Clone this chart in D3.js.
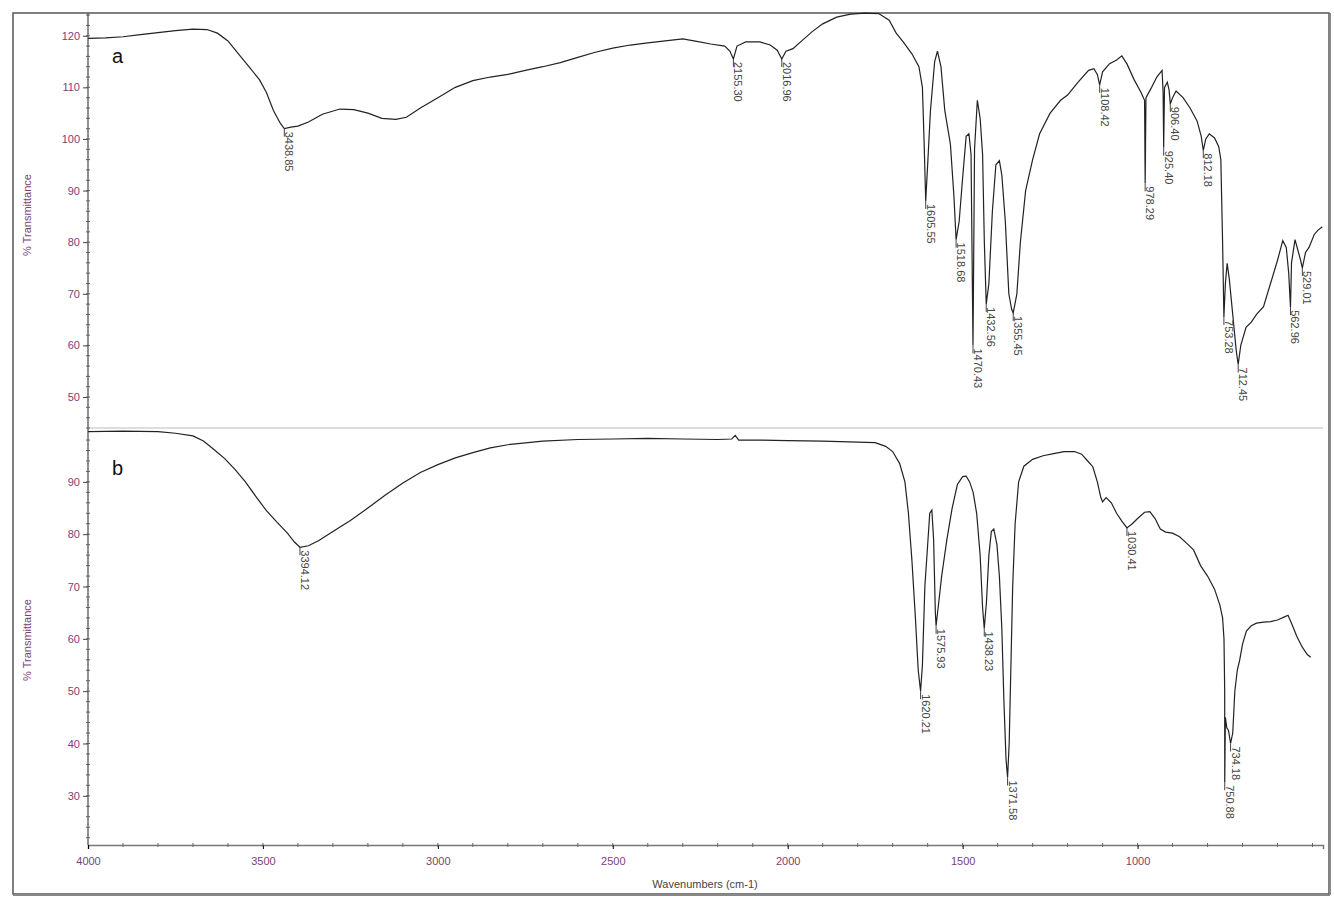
<!DOCTYPE html>
<html><head><meta charset="utf-8">
<script src="https://cdn.jsdelivr.net/npm/d3@7"></script>
<style>body{margin:0;background:#fff}</style></head>
<body><svg id="c" width="1334" height="911"></svg>
<script>
const spectrumA = [[4000,119.5],[3950,119.6],[3900,119.8],[3850,120.2],[3800,120.6],[3750,121],[3700,121.3],[3660,121.2],[3630,120.5],[3600,119],[3570,116.5],[3540,114],[3510,111.5],[3490,109],[3470,105.5],[3450,103],[3438.85,102],[3420,102.3],[3400,102.5],[3370,103.3],[3330,104.8],[3280,105.8],[3240,105.7],[3200,105],[3160,104],[3120,103.8],[3090,104.2],[3050,106],[3000,108],[2950,110],[2900,111.3],[2850,112],[2800,112.5],[2750,113.3],[2700,114],[2650,114.8],[2600,115.8],[2550,116.8],[2500,117.6],[2450,118.2],[2400,118.6],[2350,119],[2300,119.4],[2260,118.9],[2220,118.4],[2180,118],[2165,117],[2155.30,115.5],[2145,118],[2120,118.8],[2080,118.8],[2050,118.2],[2030,117.2],[2016.96,115.5],[2005,117],[1985,117.5],[1960,119],[1930,120.8],[1900,122.3],[1860,123.6],[1820,124.2],[1780,124.4],[1740,124.3],[1710,123],[1690,120.5],[1670,118.8],[1645,116.5],[1625,114],[1615,110],[1610,99],[1605.55,88],[1600,95],[1592,105.5],[1580,115],[1572,117],[1562,114],[1551,105.5],[1535,99],[1525,89],[1518.68,80.5],[1510,84],[1500,92.5],[1490,100.5],[1482,101],[1476,97],[1470.43,60],[1466,98],[1458,107.5],[1450,104],[1443,97],[1438,80],[1432.56,68],[1425,72],[1415,86],[1405,95],[1395,95.8],[1388,93],[1378,84],[1368,70],[1360,67],[1355.45,66.3],[1345,70],[1335,80],[1320,90],[1300,96],[1280,101],[1250,105],[1220,107.5],[1200,108.5],[1170,111],[1140,113.3],[1125,113.6],[1115,112.5],[1108.42,110.5],[1100,113],[1080,114.6],[1060,115.3],[1045,116.1],[1030,114.5],[1010,111.5],[990,109],[980,107.5],[978.29,91.4],[976,108],[960,110],[945,112],[930,113.3],[927,109],[925.40,98.3],[923,110],[915,111],[910,109.5],[906.40,106.8],[900,108],[890,109.3],[870,108],[850,106],[830,103.5],[818,100.5],[812.18,97.8],[805,100],[795,101],[780,100.2],[768,98.5],[762,96],[757,80],[753.28,65.5],[749,72],[744,75.9],[738,73],[728,66],[718,59],[712.45,56.3],[705,60],[690,63.5],[675,64.5],[660,66],[640,67.5],[620,72],[600,76.5],[585,80.3],[575,79],[568,74],[562.96,67.4],[560,76],[550,80.5],[540,78],[534,76.5],[529.01,75],[520,78],[510,79],[495,81.5],[485,82.3],[472,83]];
const spectrumB = [[4000,99.6],[3900,99.7],[3800,99.6],[3750,99.3],[3700,98.8],[3670,97.8],[3640,96.2],[3610,94.5],[3580,92.4],[3550,90],[3520,87.2],[3490,84.5],[3460,82.3],[3430,80.2],[3410,78.5],[3394.12,77.5],[3370,77.8],[3340,78.8],[3300,80.5],[3250,82.6],[3200,85],[3150,87.5],[3100,89.8],[3050,91.8],[3000,93.3],[2950,94.6],[2900,95.6],[2850,96.5],[2800,97.1],[2700,97.8],[2600,98.1],[2500,98.2],[2400,98.3],[2300,98.2],[2200,98.1],[2160,98.2],[2150,98.9],[2140,98],[2100,98],[2000,97.9],[1900,97.8],[1800,97.6],[1750,97.5],[1720,96.8],[1700,95.8],[1680,93.5],[1665,90],[1655,84],[1645,75],[1635,64],[1627,54],[1620.21,50],[1615,55],[1608,70],[1600,78],[1594,84],[1588,84.6],[1583,79],[1578,65],[1575.93,62.5],[1570,66],[1560,72],[1545,79],[1530,85],[1515,89.5],[1500,91],[1490,91.1],[1480,90],[1470,88],[1460,84],[1450,76],[1443,66],[1438.23,62],[1432,67],[1425,76],[1418,80.5],[1411,81],[1402,78],[1395,72],[1388,62],[1382,48],[1376,37],[1371.58,33.5],[1367,40],[1362,55],[1357,70],[1350,82],[1340,90],[1325,93],[1300,94.3],[1270,95],[1240,95.4],[1210,95.8],[1180,95.8],[1160,95.3],[1140,93.8],[1128,92.9],[1115,90],[1105,87],[1100,86.2],[1090,87],[1075,86],[1060,84],[1045,82.5],[1030.41,81.2],[1015,82],[1000,83],[980,84.2],[965,84.3],[950,83],[935,81],[920,80.4],[900,80.2],[880,79.5],[860,78.3],[840,77],[820,74],[800,72],[780,69.5],[765,66.5],[757,64],[753,60],[751,50],[750.88,32.6],[749,45],[745,43],[740,42.5],[734.18,40],[728,42],[722,50],[715,54],[708,56],[700,59],[689,61.5],[675,62.5],[660,63],[640,63.2],[620,63.3],[600,63.6],[580,64.2],[570,64.5],[560,63],[545,60.5],[530,58.5],[515,57],[505,56.5]];
const peaksA = ["3438.85","2155.30","2016.96","1605.55","1518.68","1470.43","1432.56","1355.45","1108.42","978.29","925.40","906.40","812.18","753.28","712.45","562.96","529.01"];
const peaksB = ["3394.12","1620.21","1575.93","1438.23","1371.58","1030.41","750.88","734.18"];
const xTicks = [4000,3500,3000,2500,2000,1500,1000];
const yTicksA = [50,60,70,80,90,100,110,120];
const yTicksB = [30,40,50,60,70,80,90];

const svg = d3.select("#c");
const x = d3.scaleLinear().domain([4000,470]).range([88,1323]);
const yA = d3.scaleLinear().domain([44,124.6]).range([428,12]);
const yB = d3.scaleLinear().domain([20.6,100.3]).range([845,428]);
const purple = "#7a3f78";

svg.append("rect").attr("x",13).attr("y",13).attr("width",1316).attr("height",881).attr("fill","none").attr("stroke","#555").attr("stroke-width",1.5);
svg.append("line").attr("x1",13).attr("x2",1330).attr("y1",895).attr("y2",895).attr("stroke","#888").attr("stroke-width",2);
svg.append("line").attr("x1",1330).attr("x2",1330).attr("y1",13).attr("y2",895).attr("stroke","#888").attr("stroke-width",2);
svg.append("line").attr("x1",88).attr("x2",1323).attr("y1",428).attr("y2",428).attr("stroke","#bbb");

function yaxis(y, ticks, yMin, yMax){
  const minors = d3.range(Math.ceil(yMin/2)*2, yMax, 2);
  const g = svg.append("g").attr("transform","translate(88,0)")
   .call(d3.axisLeft(y).tickValues(ticks).tickSize(5).tickFormat(d3.format("d")));
  g.select(".domain").remove();
  g.selectAll("text").attr("fill",purple).attr("font-family","Liberation Sans, Arial").attr("font-size",11);
  g.selectAll("line").attr("stroke","#444");
  svg.append("g").selectAll("line").data(minors).join("line")
   .attr("x1",86).attr("x2",90).attr("y1",d=>y(d)).attr("y2",d=>y(d)).attr("stroke","#666");
}
yaxis(yA, yTicksA, 44, 124.6);
yaxis(yB, yTicksB, 21, 100);
svg.append("line").attr("x1",88).attr("x2",88).attr("y1",13).attr("y2",845).attr("stroke","#555").attr("stroke-width",1.3);

const gx = svg.append("g").attr("transform","translate(0,845)")
  .call(d3.axisBottom(x).tickValues(xTicks).tickSize(4).tickFormat(d3.format("d")));
gx.select(".domain").attr("stroke","#777").attr("stroke-width",1.5);
gx.selectAll("text").attr("fill",purple).attr("font-family","Liberation Sans, Arial").attr("font-size",11).attr("dy","1.2em");
svg.append("g").selectAll("line").data(d3.range(500,4000,100)).join("line")
  .attr("x1",d=>x(d)).attr("x2",d=>x(d)).attr("y1",843).attr("y2",847).attr("stroke","#666");

const line = y => d3.line().x(d=>x(d[0])).y(d=>y(d[1]));
svg.append("path").datum(spectrumA).attr("d",line(yA)).attr("fill","none").attr("stroke","#222").attr("stroke-width",1.2);
svg.append("path").datum(spectrumB).attr("d",line(yB)).attr("fill","none").attr("stroke","#222").attr("stroke-width",1.2);

function peakLabels(peaks, data, y){
  peaks.forEach(p=>{
    const wn = +p;
    const pt = data.find(d=>Math.abs(d[0]-wn)<0.01);
    const px = x(wn), py = y(pt[1]);
    svg.append("line").attr("x1",px).attr("x2",px).attr("y1",py).attr("y2",py+8).attr("stroke","#444");
    svg.append("text").attr("transform",`translate(${px+1},${py+3}) rotate(90)`)
      .attr("font-family","Liberation Sans, Arial").attr("font-size",11).attr("fill","#444").text(p);
  });
}
peakLabels(peaksA, spectrumA, yA);
peakLabels(peaksB, spectrumB, yB);

svg.append("text").attr("x",112).attr("y",63).attr("font-family","Liberation Sans, Arial").attr("font-size",20).attr("fill","#111").text("a");
svg.append("text").attr("x",112).attr("y",475).attr("font-family","Liberation Sans, Arial").attr("font-size",20).attr("fill","#111").text("b");
[[215],[640]].forEach(([cy])=>{
  svg.append("text").attr("transform",`translate(31,${cy}) rotate(-90)`).attr("text-anchor","middle")
   .attr("font-family","Liberation Sans, Arial").attr("font-size",11).attr("fill",purple).text("% Transmittance");
});
svg.append("text").attr("x",705).attr("y",888).attr("text-anchor","middle").attr("font-family","Liberation Sans, Arial").attr("font-size",11).attr("fill","#444").text("Wavenumbers (cm-1)");
</script></body></html>
